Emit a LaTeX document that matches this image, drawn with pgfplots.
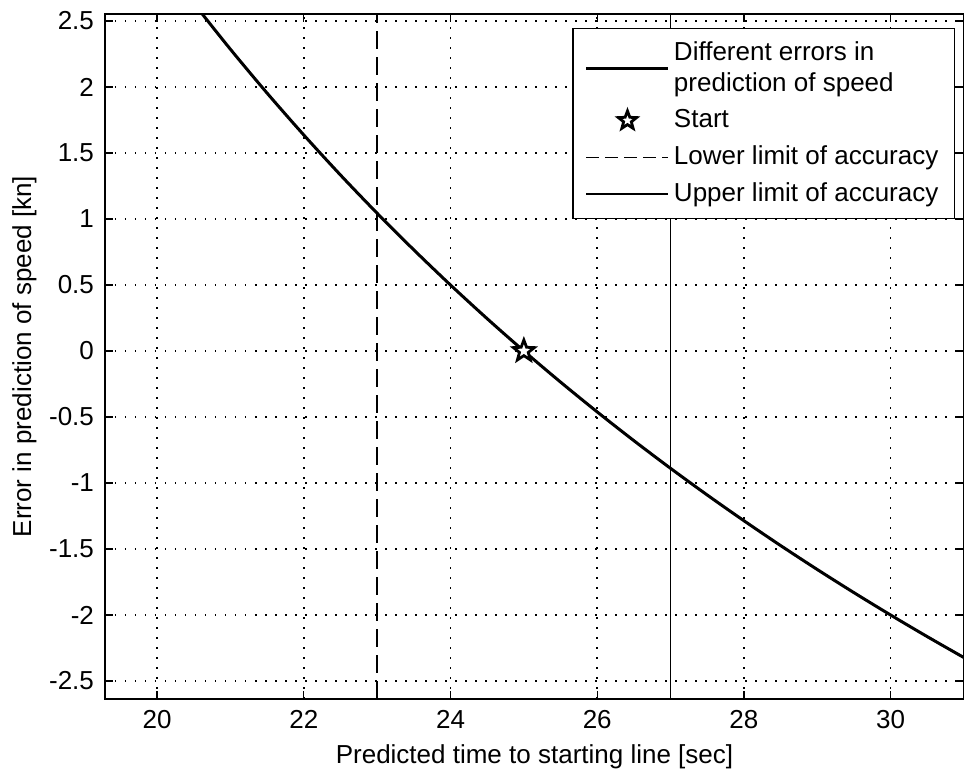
\documentclass[border=0pt]{standalone}
\usepackage{fontspec}
\setmainfont{Liberation Sans}
\usepackage{pgfplots}
\pgfplotsset{compat=1.18}
\usetikzlibrary{plotmarks, calc}

% five-pointed open star, like MATLAB's 'p' marker
\pgfdeclareplotmark{pentastar}{%
  \pgfpathmoveto{\pgfqpointpolar{90}{\pgfplotmarksize}}%
  \pgfpathlineto{\pgfqpointpolar{126}{0.42\pgfplotmarksize}}%
  \pgfpathlineto{\pgfqpointpolar{162}{\pgfplotmarksize}}%
  \pgfpathlineto{\pgfqpointpolar{198}{0.42\pgfplotmarksize}}%
  \pgfpathlineto{\pgfqpointpolar{234}{\pgfplotmarksize}}%
  \pgfpathlineto{\pgfqpointpolar{270}{0.42\pgfplotmarksize}}%
  \pgfpathlineto{\pgfqpointpolar{306}{\pgfplotmarksize}}%
  \pgfpathlineto{\pgfqpointpolar{342}{0.42\pgfplotmarksize}}%
  \pgfpathlineto{\pgfqpointpolar{18}{\pgfplotmarksize}}%
  \pgfpathlineto{\pgfqpointpolar{54}{0.42\pgfplotmarksize}}%
  \pgfpathclose
  \pgfusepathqfillstroke
}

\begin{document}
\fontsize{13}{15.5}\selectfont
\begin{tikzpicture}
\begin{axis}[
  scale only axis,
  width=429.5pt, height=342.5pt,
  xmin=19.29, xmax=31,
  ymin=-2.636, ymax=2.553,
  axis line style={line width=0.8pt},
  tick style={black, line width=0.6pt},
  tick align=inside,
  major tick length=4pt,
  xtick={20,22,...,30},
  ytick={-2.5,-2,-1.5,-1,-0.5,0,0.5,1,1.5,2,2.5},
  yticklabels={-2.5,-2,-1.5,-1,-0.5,0,0.5,1,1.5,2,2.5},
  xticklabels={20,22,24,26,28,30},
  tick label style={font=\fontsize{13}{15.5}\selectfont},
  yticklabel style={xshift=-1pt},
  xticklabel style={yshift=-1pt},
  grid=major,
  major grid style={black, line width=0.75pt, dash pattern=on 0.75pt off 4.25pt},
  xlabel={Predicted time to starting line [sec]},
  ylabel={Error in prediction of speed [kn]},
  label style={font=\fontsize{13}{15.5}\selectfont},
  xlabel style={yshift=1pt},
  ylabel style={yshift=-2.5pt},
  legend style={
    at={(1,1)}, anchor=north east, xshift=-4.5pt, yshift=-7pt,
    draw=black, line width=0.6pt, fill=white,
    font=\fontsize{13}{15.5}\selectfont,
    cells={anchor=west, align=left},
    row sep=3.1pt, inner xsep=6pt, inner ysep=4.5pt,
  },
  legend cell align=left,
]
% Different errors in prediction of speed
\addplot[black, line width=1.5pt, smooth,
  legend image code/.code={\draw[black, line width=1.5pt] (0pt,0pt) -- (41pt,0pt);}]
  coordinates {
  (20.5,2.634) (21,2.2857) (21.5,1.9535) (22,1.6364) (22.5,1.3333)
  (23,1.0435) (23.5,0.7660) (24,0.5) (24.5,0.2449) (25,0)
  (25.5,-0.2353) (26,-0.4615) (26.5,-0.6792) (27,-0.8889) (27.5,-1.0909)
  (28,-1.2857) (28.5,-1.4737) (29,-1.6552) (29.5,-1.8305) (30,-2.0)
  (30.5,-2.1639) (31,-2.3226)
  };
\addlegendentry{Different errors in\\prediction of speed}
% Start
\addplot[only marks, mark=pentastar, mark size=5.5pt,
  mark options={black, fill=white, line width=1.4pt},
  legend image code/.code={\draw[black, fill=white, line width=1.4pt] plot[mark=pentastar, mark size=4.8pt] coordinates {(20.5pt,0pt)};}]
  coordinates {(25,0)};
\addlegendentry{Start}
% Lower limit
\addplot[black, line width=0.7pt, dash pattern=on 9pt off 4pt,
  legend image code/.code={\draw[black, line width=0.6pt, dash pattern=on 6.5pt off 3pt] (0pt,0pt) -- (41pt,0pt);}]
  coordinates {(23,-2.636) (23,2.553)};
\addlegendentry{Lower limit of accuracy}
% Upper limit
\addplot[black, line width=0.6pt,
  legend image code/.code={\draw[black, line width=0.6pt] (0pt,0pt) -- (41pt,0pt);}]
  coordinates {(27,-2.636) (27,2.553)};
\addlegendentry{Upper limit of accuracy}
\end{axis}
\pgfresetboundingbox
\path ($(current axis.south west)+(-52.5pt,-35pt)$) rectangle ($(current axis.north east)+(0pt,7pt)$);
\end{tikzpicture}
\end{document}
